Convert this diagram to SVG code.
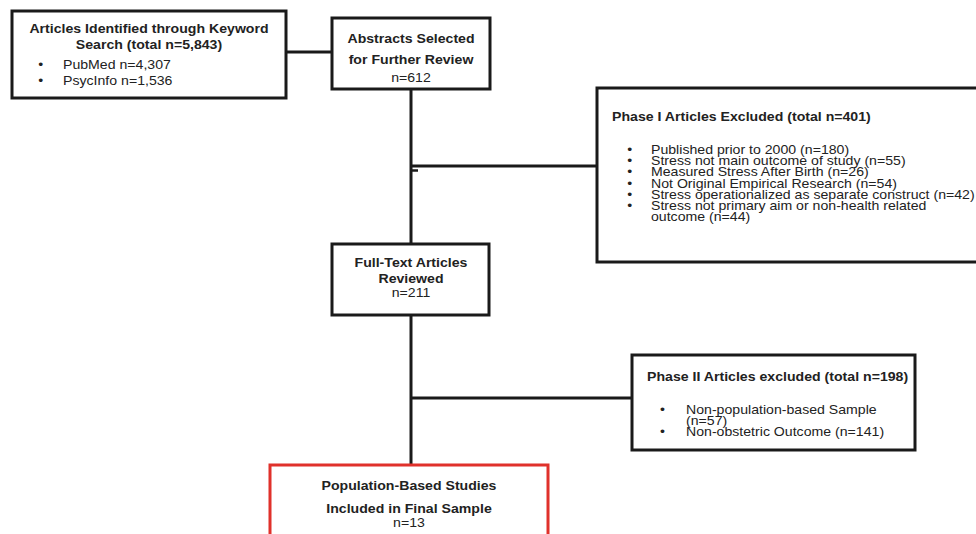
<svg xmlns="http://www.w3.org/2000/svg" width="976" height="534" viewBox="0 0 976 534">
<style>
.box{fill:#fff;stroke:#1a1a1a;stroke-width:3}
.red{fill:#fff;stroke:#e0312b;stroke-width:3}
.ln{stroke:#1a1a1a;stroke-width:3;fill:none}
text{font-family:"Liberation Sans",Arial,sans-serif;font-size:12.5px;fill:#222}
.b{font-weight:bold}
.c{text-anchor:middle}
</style>
<rect width="976" height="534" fill="#fff"/>
<g id="connectors">
<line class="ln" x1="286" y1="52" x2="332" y2="52"/>
<line class="ln" x1="411" y1="89" x2="411" y2="243"/>
<line class="ln" x1="411" y1="166" x2="597" y2="166"/>
<line x1="411" y1="170.5" x2="418" y2="170.5" stroke="#1a1a1a" stroke-width="2.5"/>
<line class="ln" x1="411" y1="315" x2="411" y2="465"/>
<line class="ln" x1="411" y1="398" x2="632" y2="398"/>
</g>
<g id="n1">
<rect class="box" x="12" y="11" width="274" height="87"/>
<g transform="translate(149,0) scale(1.13,1)">
<text class="b c" x="0" y="33">Articles Identified through Keyword</text>
<text class="b c" x="0" y="49">Search (total n=5,843)</text>
</g>
<g transform="translate(63,0) scale(1.13,1)">
<text x="-22" y="69">•</text><text x="0" y="69">PubMed n=4,307</text>
<text x="-22" y="85">•</text><text x="0" y="85">PsycInfo n=1,536</text>
</g>
</g>
<g id="n2">
<rect class="box" x="332" y="18" width="158" height="71"/>
<g transform="translate(411,0) scale(1.13,1)">
<text class="b c" x="0" y="43">Abstracts Selected</text>
<text class="b c" x="0" y="64">for Further Review</text>
<text class="c" x="0" y="82">n=612</text>
</g>
</g>
<g id="n3">
<rect class="box" x="597" y="88" width="395" height="174"/>
<g transform="translate(651,0) scale(1.13,1)">
<text class="b" x="-34.5" y="121">Phase I Articles Excluded (total n=401)</text>
<text x="-21" y="154">•</text><text x="0" y="154">Published prior to 2000 (n=180)</text>
<text x="-21" y="165">•</text><text x="0" y="165">Stress not main outcome of study (n=55)</text>
<text x="-21" y="176.5">•</text><text x="0" y="176.5">Measured Stress After Birth (n=26)</text>
<text x="-21" y="188">•</text><text x="0" y="188">Not Original Empirical Research (n=54)</text>
<text x="-21" y="199">•</text><text x="0" y="199">Stress operationalized as separate construct (n=42)</text>
<text x="-21" y="210.5">•</text><text x="0" y="210.5">Stress not primary aim or non-health related</text>
<text x="0" y="221.5">outcome (n=44)</text>
</g>
</g>
<g id="n4">
<rect class="box" x="332" y="244" width="157" height="71"/>
<g transform="translate(411,0) scale(1.13,1)">
<text class="b c" x="0" y="267">Full-Text Articles</text>
<text class="b c" x="0" y="283">Reviewed</text>
<text class="c" x="0" y="297">n=211</text>
</g>
</g>
<g id="n5">
<rect class="box" x="632" y="355" width="283" height="95"/>
<g transform="translate(686,0) scale(1.13,1)">
<text class="b" x="-34.5" y="381">Phase II Articles excluded (total n=198)</text>
<text x="-23" y="414">•</text><text x="0" y="414">Non-population-based Sample</text>
<text x="0" y="425">(n=57)</text>
<text x="-23" y="436">•</text><text x="0" y="436">Non-obstetric Outcome (n=141)</text>
</g>
</g>
<g id="n6">
<rect class="red" x="270" y="465" width="278" height="80"/>
<g transform="translate(409,0) scale(1.13,1)">
<text class="b c" x="0" y="490">Population-Based Studies</text>
<text class="b c" x="0" y="513">Included in Final Sample</text>
<text class="c" x="0" y="527">n=13</text>
</g>
</g>
</svg>
